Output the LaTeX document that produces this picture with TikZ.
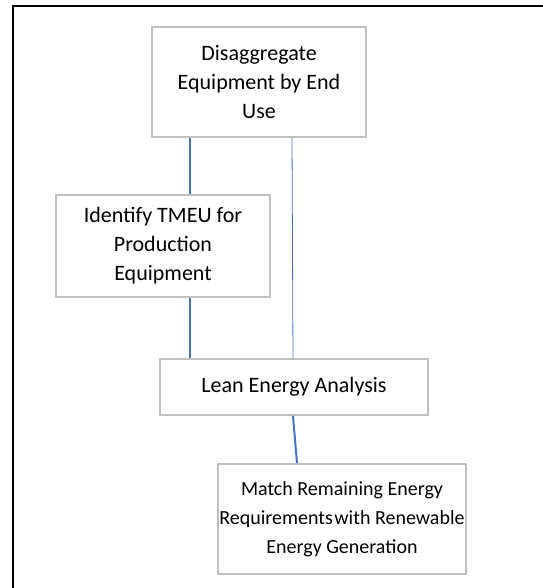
\documentclass[tikz,border=0pt]{standalone}
\usepackage{fontspec}
\setmainfont{Carlito}
\definecolor{boxgray}{HTML}{BFBFBF}
\definecolor{linkblue}{HTML}{4472C4}
\begin{document}
\begin{tikzpicture}[x=1pt, y=-1pt, font=\fontsize{22}{29}\selectfont]
    \tikzset{
        box/.style={rectangle, draw=boxgray, line width=2pt,
        inner sep=0pt, align=center, fill=white},
        link/.style={draw=linkblue, line width=2pt},
        thinlink/.style={draw=linkblue, line width=0.8pt}
    }

    \useasboundingbox (0,0) rectangle (542,588);
    % outer frame
    \draw [line width=2pt] (13,588) -- (13,6) -- (543,6);

    \node (disagg) [box, minimum width=214pt, minimum height=110pt] at (259,82)
        {Disaggregate\\Equipment by End\\Use};
    \node (tmeu) [box, minimum width=214pt, minimum height=102pt] at (163,246)
        {Identify TMEU for\\Production\\Equipment};
    \node (lean) [box, minimum width=268pt, minimum height=56pt] at (294,387)
        {Lean Energy Analysis};
    \node (match) [box, minimum width=248pt, minimum height=110pt,
        font=\fontsize{20}{29}\selectfont] at (342,519)
        {Match Remaining Energy\\Requirements\hspace{-3pt} with Renewable\\Energy Generation};

    \draw [link] (disagg.south -| 190,0) -- (tmeu.north -| 190,0);
    \draw [link] (tmeu.south -| 190,0) -- (lean.north -| 190,0);
    \draw [thinlink] (disagg.south -| 292,0) -- (lean.north -| 293,0);
    \draw [link] (lean.south -| 293,0) -- (match.north -| 297,0);
\end{tikzpicture}
\end{document}
